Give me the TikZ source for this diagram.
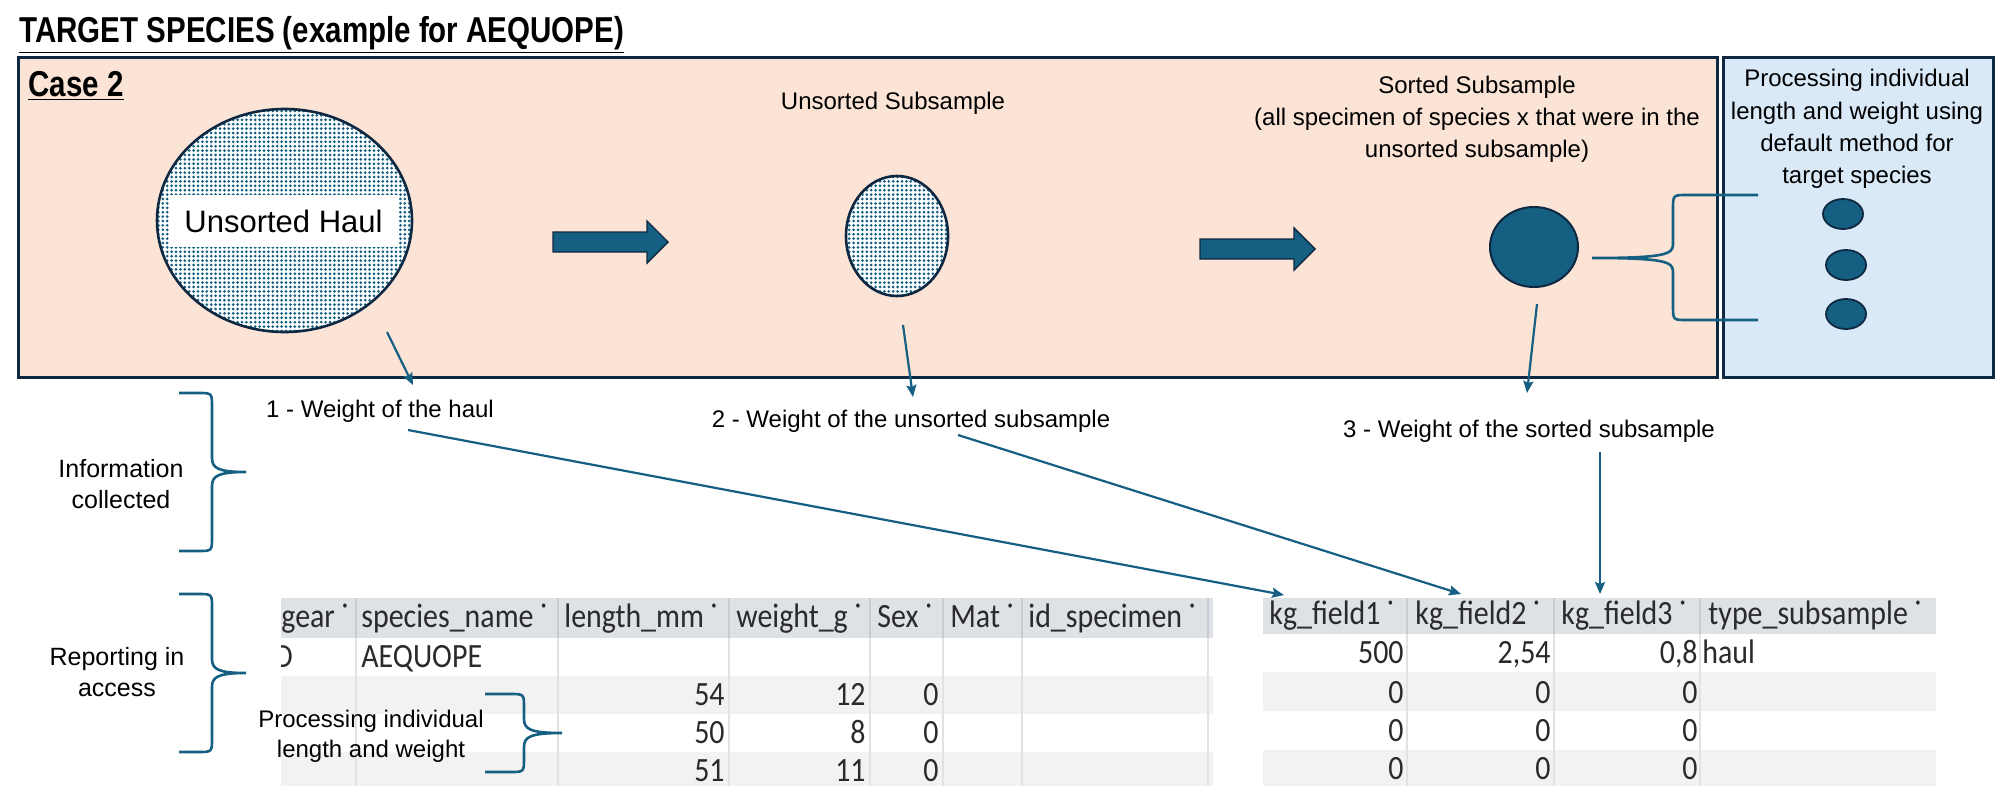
\documentclass[tikz,border=0pt]{standalone}
\usepackage{fontspec}
\setmainfont{Liberation Sans}
\newfontfamily\tabfnt{Carlito}[FakeStretch=0.88]
\newfontfamily\titlefnt{Liberation Sans}[FakeStretch=0.82]
\usetikzlibrary{shapes.geometric,patterns.meta,arrows.meta}
\definecolor{accent}{HTML}{156082}
\definecolor{navy}{HTML}{0E2841}
\definecolor{peach}{HTML}{FBE3D6}
\definecolor{lblue}{HTML}{DAE9F7}
\definecolor{hdrbg}{HTML}{DEE2E7}
\definecolor{rowgrey}{HTML}{F2F2F2}
\definecolor{hsep}{HTML}{C8CDD3}
\definecolor{bsep}{HTML}{E2E2E2}
\definecolor{tabtext}{HTML}{2A2A2A}
\tikzset{
  lbl/.style={inner sep=0pt, align=center, font=\fontsize{12}{15}\selectfont},
  conn/.style={draw=accent, line width=1.1pt, -{Stealth[length=6pt,width=5pt,inset=1pt]}},
  bracestyle/.style={draw=accent, line width=1.3pt},
  boxstyle/.style={draw=navy, line width=1.5pt, inner sep=0pt, anchor=north west},
  blockarrow/.style={fill=accent, draw=navy, line width=0.7pt, line join=miter},
  dotfill/.style={ellipse, draw=navy, line width=1.3pt, inner sep=0pt, preaction={fill=white}, pattern={Dots[distance=2.2pt,radius=0.75pt]}, pattern color=accent},
  solidell/.style={ellipse, draw=navy, fill=accent, inner sep=0pt},
  tabtxt/.style={inner sep=0pt, text=tabtext, font=\tabfnt\fontsize{17}{20}\selectfont},
  tl/.style={tabtxt, anchor=base west},
  tr/.style={tabtxt, anchor=base east},
  ttl/.style={anchor=base west, inner sep=0pt, font=\titlefnt\bfseries\fontsize{18}{21}\selectfont}
}
\newcommand\drawbrace[7]{%
  \draw[bracestyle] (#1,#4) -- ({#2-14*(#7)},#4) .. controls (#2,#4) and (#2,#4) .. (#2,{#4+14}) -- (#2,{#5-14}) .. controls (#2,{#5-4}) and ({#2+6*(#7)},#5) .. (#3,#5) .. controls ({#2+6*(#7)},#5) and (#2,{#5+4}) .. (#2,{#5+14}) -- (#2,{#6-14}) .. controls (#2,#6) and (#2,#6) .. ({#2-14*(#7)},#6) -- (#1,#6);}
\begin{document}
\begin{tikzpicture}[x=0.5pt,y=-0.5pt]
\useasboundingbox (0,0) rectangle (2000,793);
\fill[white] (0,0) rectangle (2000,793);

% title
\node[ttl] (title) at (19,42) {\underline{TARGET SPECIES (example for AEQUOPE)}};

% boxes
\node[boxstyle, fill=peach, minimum width=849.5pt, minimum height=160pt] (casebox) at (17,56) {};
\node[boxstyle, fill=lblue, minimum width=135pt, minimum height=160pt] (procbox) at (1722,56) {};
\node[ttl] (case2) at (28,96) {\underline{Case 2}};

% shapes
\node[dotfill, minimum width=127.5pt, minimum height=111.5pt] (haul) at (284.5,220.5) {};
\node[fill=white, inner sep=0pt, minimum width=114.5pt, minimum height=26pt, font=\fontsize{15.5}{18}\selectfont] (hault) at (283.5,221) {Unsorted Haul};
\node[dotfill, minimum width=51pt, minimum height=60pt] (usub) at (897,236) {};
\node[solidell, line width=1pt, minimum width=44pt, minimum height=40pt] (ssub) at (1534,247) {};

\draw[blockarrow] (553,232) -- (647,232) -- (647,221) -- (668,242) -- (647,263) -- (647,252) -- (553,252) -- cycle;
\draw[blockarrow] (1200,239) -- (1294,239) -- (1294,228) -- (1315,249) -- (1294,270) -- (1294,259) -- (1200,259) -- cycle;

\node[lbl] (lusub) at (893,103) {Unsorted Subsample};
\node[lbl, font=\fontsize{12}{16}\selectfont] (lssub) at (1477,119) {Sorted Subsample\\(all specimen of species x that were in the\\unsorted subsample)};
\node[lbl, font=\fontsize{12}{16.2}\selectfont] (lproc) at (1857,129) {Processing individual\\length and weight using\\default method for\\target species};

\node[solidell, line width=0.9pt, minimum width=20pt, minimum height=15pt] (d1) at (1843,214) {};
\node[solidell, line width=0.9pt, minimum width=20pt, minimum height=15pt] (d2) at (1846,265) {};
\node[solidell, line width=0.9pt, minimum width=20pt, minimum height=15pt] (d3) at (1846,314) {};
\drawbrace{1758}{1673}{1592}{195}{258}{320}{-1}

% labels of weights
\node[lbl, anchor=base] (w1) at (380,417) {1 - Weight of the haul};
\node[lbl, anchor=base] (w2) at (911,427) {2 - Weight of the unsorted subsample};
\node[lbl, anchor=base] (w3) at (1529,437) {3 - Weight of the sorted subsample};

% left labels and braces
\node[lbl, font=\fontsize{12.5}{15.5}\selectfont] (info) at (121,484) {Information\\collected};
\node[lbl, font=\fontsize{12.5}{15.5}\selectfont] (rep) at (117,672) {Reporting in\\access};
\drawbrace{179}{212}{246}{393}{472}{551}{1}
\drawbrace{179}{212}{246}{594}{673}{752}{1}

% left table
\begin{scope}
\clip (281,598) rectangle (1213,786);
\fill[hdrbg] (270,598) rectangle (1213,638);
\fill[rowgrey] (270,676) rectangle (1213,714);
\fill[rowgrey] (270,752) rectangle (1213,786);
\foreach \x in {356,558,729,870,943,1022,1208} {
  \draw[hsep, line width=0.7pt] (\x,598) -- (\x,638);
  \draw[bsep, line width=0.7pt] (\x,638) -- (\x,786);
}
\node[tl] (lh1) at (281,627) {gear ˙};
\node[tl] (lh2) at (361,627) {species\_name ˙};
\node[tl] (lh3) at (564,627) {length\_mm ˙};
\node[tl] (lh4) at (736,627) {weight\_g ˙};
\node[tl] (lh5) at (877,627) {Sex ˙};
\node[tl] (lh6) at (950,627) {Mat ˙};
\node[tl] (lh7) at (1028,627) {id\_specimen ˙};
\node[tl] (la1) at (274,667) {D};
\node[tl] (la2) at (361,667) {AEQUOPE};
\node[tr] (lb1) at (725,705) {54};
\node[tr] (lb2) at (866,705) {12};
\node[tr] (lb3) at (939,705) {0};
\node[tr] (lc1) at (725,743) {50};
\node[tr] (lc2) at (866,743) {8};
\node[tr] (lc3) at (939,743) {0};
\node[tr] (ld1) at (725,781) {51};
\node[tr] (ld2) at (866,781) {11};
\node[tr] (ld3) at (939,781) {0};
\end{scope}

% right table
\fill[hdrbg] (1263,598) rectangle (1936,634);
\fill[rowgrey] (1263,672) rectangle (1936,711);
\fill[rowgrey] (1263,750) rectangle (1936,786);
\foreach \x in {1407,1554,1700} {
  \draw[hsep, line width=0.7pt] (\x,598) -- (\x,634);
  \draw[bsep, line width=0.7pt] (\x,634) -- (\x,786);
}
\node[tl] (rh1) at (1269,624) {kg\_field1 ˙};
\node[tl] (rh2) at (1415,624) {kg\_field2 ˙};
\node[tl] (rh3) at (1561,624) {kg\_field3 ˙};
\node[tl] (rh4) at (1708,624) {type\_subsample ˙};
\node[tr] (ra1) at (1404,663) {500};
\node[tr] (ra2) at (1551,663) {2,54};
\node[tr] (ra3) at (1698,663) {0,8};
\node[tl] (ra4) at (1702,663) {haul};
\node[tr] (rb1) at (1404,703) {0};
\node[tr] (rb2) at (1551,703) {0};
\node[tr] (rb3) at (1698,703) {0};
\node[tr] (rc1) at (1404,741) {0};
\node[tr] (rc2) at (1551,741) {0};
\node[tr] (rc3) at (1698,741) {0};
\node[tr] (rd1) at (1404,779) {0};
\node[tr] (rd2) at (1551,779) {0};
\node[tr] (rd3) at (1698,779) {0};

% inner brace label
\node[lbl] (pil) at (371,736) {Processing individual\\length and weight};
\drawbrace{485}{524}{562}{694}{733}{772}{1}

% connectors
\coordinate (a1s) at (387,332); \coordinate (a1e) at (413,385);
\coordinate (a2s) at (903,325); \coordinate (a2e) at (913,397);
\coordinate (a3s) at (1537,304); \coordinate (a3e) at (1527,393);
\draw[conn] (a1s) -- (a1e);
\draw[conn] (a2s) -- (a2e);
\draw[conn] (a3s) -- (a3e);
\coordinate (l1s) at (408,430); \coordinate (l1e) at (1284,595);
\coordinate (l2s) at (958,435); \coordinate (l2e) at (1461,594);
\coordinate (l3s) at (1600,452); \coordinate (l3e) at (1600,594);
\draw[conn] (l1s) -- (l1e);
\draw[conn] (l2s) -- (l2e);
\draw[conn] (l3s) -- (l3e);
\end{tikzpicture}
\end{document}
